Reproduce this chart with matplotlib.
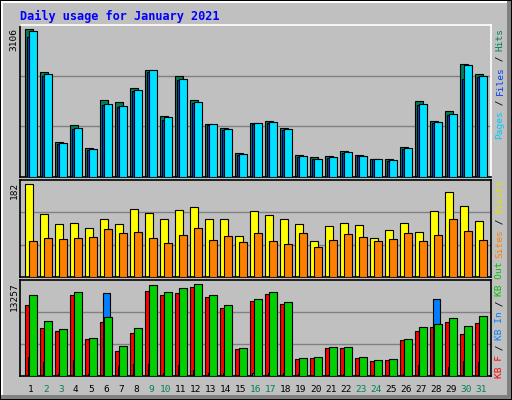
import numpy as np
import matplotlib.pyplot as plt
from matplotlib.patches import Rectangle

days = np.arange(1, 32)
weekend = [2, 3, 9, 10, 16, 17, 23, 24, 30, 31]

hits = [3106, 2198, 740, 1099, 613, 1606, 1564, 1859, 2240, 1289, 2113, 1606, 1120, 1035, 507, 1141,
        1183, 1035, 465, 423, 444, 549, 465, 380, 380, 634, 1585, 1183, 1373, 2367, 2155]
files = [2937, 2120, 690, 1000, 570, 1500, 1470, 1800, 2200, 1190, 2040, 1560, 1100, 980, 470, 1110,
         1140, 990, 420, 370, 400, 510, 430, 370, 340, 590, 1510, 1130, 1300, 2050, 2100]
pages = [3057, 2149, 712, 1029, 585, 1536, 1494, 1832, 2233, 1261, 2064, 1578, 1120, 1008, 480, 1134,
         1156, 1008, 437, 374, 416, 522, 437, 374, 353, 606, 1536, 1156, 1325, 2339, 2127]

visits = [182, 123, 105, 107, 97, 113, 105, 133, 125, 113, 131, 137, 113, 113, 81, 129,
          121, 113, 105, 70, 101, 107, 103, 77, 93, 107, 89, 129, 166, 139, 109]
sites = [70, 77, 74, 77, 79, 95, 87, 89, 76, 66, 83, 97, 72, 81, 68, 87,
         70, 64, 87, 58, 72, 85, 79, 70, 74, 87, 70, 83, 113, 91, 72]

kb_f = [10212, 6873, 6437, 11664, 5276, 7744, 3533, 6147, 12245, 11664, 11955, 12826, 11374, 9777, 3824, 10793,
        11810, 10358, 2517, 2662, 3969, 3969, 2662, 2226, 2372, 5130, 6437, 7018, 7744, 6002, 7599]
kb_in = [2807, 2081, 339, 2372, 339, 11955, 1500, 1791, 1791, 484, 1646, 920, 484, 484, 145, 484,
         484, 484, 339, 194, 194, 339, 194, 194, 194, 339, 1646, 11084, 1355, 2226, 2081]
kb_out = [11664, 7889, 6728, 12100, 5421, 8470, 4259, 6873, 13116, 12100, 12681, 13257, 11664, 10212, 3969, 11084,
          12100, 10648, 2662, 2807, 4114, 4114, 2807, 2372, 2517, 5276, 7018, 7454, 8325, 7163, 8615]

BG = '#c0c0c0'
W, H = 512, 400
fig = plt.figure(figsize=(5.12, 4.0), dpi=100, facecolor=BG)
plt.rcParams['font.family'] = 'DejaVu Sans Mono'

# bevel frame
fig.patches.append(Rectangle((0, 0), 1, 1, transform=fig.transFigure, fc='black', ec='none', zorder=-3))
fig.patches.append(Rectangle((1 / W, 1 / H), 1 - 2 / W, 1 - 2 / H, transform=fig.transFigure, fc='#808080', ec='none', zorder=-2))
fig.patches.append(Rectangle((1 / W, 5 / H), 1 - 6 / W, 1 - 6 / H, transform=fig.transFigure, fc='white', ec='none', zorder=-2))
fig.patches.append(Rectangle((3 / W, 5 / H), 1 - 8 / W, 1 - 8 / H, transform=fig.transFigure, fc=BG, ec='none', zorder=-1))


def px_axes(y0, y1):
    return fig.add_axes([20 / W, 1 - y1 / H, 471 / W, (y1 - y0) / H])


bw = 0.49
lw = 0.8


def setup(ax, top):
    ax.set_facecolor(BG)
    ax.set_xlim(0.65, 32.05)
    ax.set_ylim(0, top)
    for g in (top / 3, 2 * top / 3):
        ax.axhline(g, color='#808080', lw=1, zorder=0)
    ax.set_xticks([])
    ax.set_yticks([])
    for s in ax.spines.values():
        s.set_color('black')
        s.set_linewidth(1.2)


ax1 = px_axes(25, 177)
setup(ax1, 3186)
ax1.spines['top'].set_color('white')
ax1.spines['right'].set_color('white')
ax1.bar(days, hits, bw, align='edge', color='#00805c', ec='black', lw=lw, zorder=2)
ax1.bar(days + 0.13, files, bw, align='edge', color='#0040ff', ec='black', lw=lw, zorder=3)
ax1.bar(days + 0.27, pages, bw, align='edge', color='#00e0ff', ec='black', lw=lw, zorder=4)

ax2 = px_axes(180, 277)
setup(ax2, 190.5)
ax2.bar(days, visits, 0.53, align='edge', color='#ffff00', ec='black', lw=lw, zorder=2)
ax2.bar(days + 0.27, sites, bw, align='edge', color='#ff8000', ec='black', lw=lw, zorder=3)

ax3 = px_axes(280, 376)
setup(ax3, 13837)
ax3.bar(days, kb_f, bw, align='edge', color='#ff0000', ec='black', lw=lw, zorder=2)
ax3.bar(days + 0.15, kb_in, bw, align='edge', color='#0080ff', ec='black', lw=lw, zorder=3)
ax3.bar(days + 0.27, kb_out, bw, align='edge', color='#00d000', ec='black', lw=lw, zorder=4)

fs = 6.8
fig.text(20 / W, 1 - 16 / H, 'Daily usage for January 2021', color='#0000ff', fontsize=8.6,
         fontweight='bold', va='center', ha='left')

for lab, ytop in (('3106', 28), ('182', 182), ('13257', 282)):
    fig.text(14 / W, 1 - ytop / H, lab, rotation=90, fontsize=fs, ha='center', va='top')

for d in days:
    xpx = 20 + (d + 0.37 - 0.65) * 15
    fig.text(xpx / W, 1 - 389 / H, str(d), fontsize=fs, ha='center', va='center',
             color='#00805c' if d in weekend else 'black')

cw = 5.5


def side_label(parts, ytop):
    n = sum(len(t) for t, _ in parts)
    c = 0
    for t, col in parts:
        top = ytop + (n - c - len(t)) * cw
        fig.text(500 / W, 1 - top / H, t, rotation=90, fontsize=fs, ha='center', va='top', color=col)
        c += len(t)


side_label([('Pages', '#00c8ff'), (' / ', 'black'), ('Files', '#0040ff'), (' / ', 'black'), ('Hits', '#00805c')], 28)
side_label([('Sites', '#ff8000'), (' / ', 'black'), ('Visits', '#e0e000')], 180)
side_label([('KB F', '#ff0000'), (' / ', 'black'), ('KB In', '#0080ff'), (' / ', 'black'), ('KB Out', '#00c000')], 262)

fig.savefig('out.png', dpi=100, facecolor=BG)
